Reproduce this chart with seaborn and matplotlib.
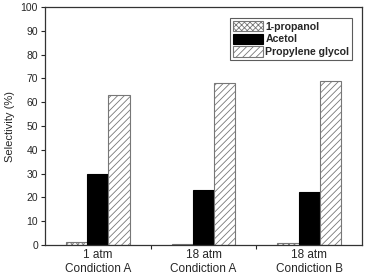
import pandas as pd
import numpy as np
import matplotlib.pyplot as plt
import seaborn as sns

# data
conditions = ['1 atm\nCondiction A', '18 atm\nCondiction A', '18 atm\nCondiction B']
products = ['1-propanol', 'Acetol', 'Propylene glycol']
propanol = [1.2, 0.3, 0.7]
acetol = [29.7, 22.9, 22.1]
glycol = [62.9, 68.1, 69.0]

rows = []
for i, c in enumerate(conditions):
    rows.append((c, products[0], propanol[i]))
    rows.append((c, products[1], acetol[i]))
    rows.append((c, products[2], glycol[i]))
df = pd.DataFrame(rows, columns=['Condition', 'Product', 'Selectivity'])

sns.set_style('white')
plt.rcParams['font.family'] = ['Liberation Sans', 'DejaVu Sans']
plt.rcParams['hatch.linewidth'] = 0.6

fig = plt.figure(figsize=(3.71, 2.78), dpi=100)
ax = fig.add_axes([45 / 371, 1 - 245 / 278, 317 / 371, 238 / 278])

sns.barplot(data=df, x='Condition', y='Selectivity', hue='Product',
            palette=['white', 'black', 'white'], width=0.6, ax=ax,
            edgecolor='#777777', linewidth=0.8, saturation=1, legend=False)

hatches = {'1-propanol': 'xxxxxx', 'Acetol': '', 'Propylene glycol': '/////'}
for cont, p in zip(ax.containers, products):
    for bar in cont:
        bar.set_hatch(hatches[p])
        if p == 'Acetol':
            bar.set_edgecolor('black')

ax.set_xlim(-0.5, 2.5)
ax.set_ylim(0, 100)
ax.set_yticks(np.arange(0, 101, 10))
ax.set_xlabel('')
ax.set_ylabel('Selectivity (%)', fontsize=8)
ax.tick_params(axis='y', which='major', direction='out', length=3, width=0.8,
               labelsize=7.5, left=True, pad=2)
ax.tick_params(axis='x', which='major', length=0, labelsize=8.5, pad=3)
ax.set_xticks([0.5, 1.5], minor=True)
ax.tick_params(axis='x', which='minor', direction='out', length=3, width=0.8, bottom=True)
for s in ax.spines.values():
    s.set_color('#333333')
    s.set_linewidth(0.9)

handles = [cont[0] for cont in ax.containers]
leg = ax.legend(handles, products, loc='upper right', bbox_to_anchor=(0.97, 0.955),
                frameon=True, fancybox=False, edgecolor='#333333', fontsize=7.6,
                handlelength=2.8, handleheight=1.1, handletextpad=0.25, borderpad=0.3,
                labelspacing=0.2, borderaxespad=0)
leg.get_frame().set_linewidth(0.8)
for t in leg.get_texts():
    t.set_fontweight('bold')

fig.savefig('out.png', dpi=100)
